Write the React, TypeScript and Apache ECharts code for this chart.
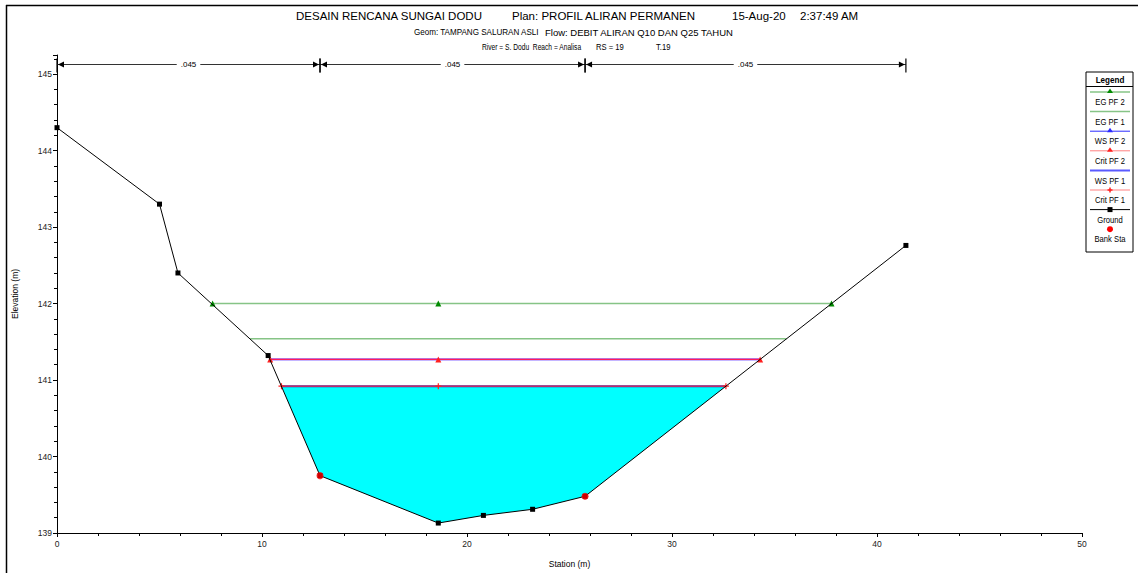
import React, { useEffect, useRef } from 'react';
import * as echarts from 'echarts';

// ---- data ----
const groundStation = [0, 5.0, 5.9, 10.3, 12.83, 18.6, 20.8, 23.2, 25.76, 41.41];
const groundElev = [144.3, 143.3, 142.4, 141.32, 139.75, 139.13, 139.23, 139.31, 139.48, 142.76];
const bankStation = [12.83, 25.76];
const bankElev = [139.75, 139.48];

const egPf2Elev = 142.0;
const egPf2Stations = [7.59, 18.6, 37.78];
const egPf1Elev = 141.54;
const egPf1Stations = [9.42, 35.59];
const wsPf2Elev = 141.27;
const wsPf2Stations = [10.4, 18.6, 34.3];
const critPf2Elev = 141.27;
const critPf2Stations = [10.4, 18.6, 34.3];
const wsPf1Elev = 140.92;
const wsPf1Stations = [10.95, 18.6, 32.63];
const critPf1Elev = 140.92;
const critPf1Stations = [10.95, 18.6, 32.63];

const nBreaks = [0, 12.83, 25.76, 41.41];
const nValues = ['.045', '.045', '.045'];

const titleLine1 = ['DESAIN RENCANA SUNGAI DODU', 'Plan: PROFIL ALIRAN PERMANEN', '15-Aug-20', '2:37:49 AM'];
const titleLine2 = ['Geom: TAMPANG SALURAN ASLI', 'Flow: DEBIT ALIRAN Q10 DAN Q25 TAHUN'];
const titleLine3 = ['River = S. Dodu  Reach = Analisa', 'RS = 19', 'T.19'];

const legendLabels = ['EG PF 2', 'EG PF 1', 'WS PF 2', 'Crit PF 2', 'WS PF 1', 'Crit PF 1', 'Ground', 'Bank Sta'];

const FONT = 'Liberation Sans, Arial, sans-serif';

const EG_LINE = '#86c486';
const EG_MARK = '#008a00';
const WS_BLUE = '#2a2aff';
const CRIT_RED = '#ff2020';
const CRIT_PINK = '#ff8080';

const PLUS = 'path://M4,0H6V4H10V6H6V10H4V6H0V4H4Z';

function hLine(stations: number[], elev: number) {
  return stations.map((s) => [s, elev]);
}

export default function App() {
  const ref = useRef<HTMLDivElement>(null);
  useEffect(() => {
    if (!ref.current) return;
    const chart = echarts.init(ref.current, undefined, { renderer: 'svg' });

    const ground = groundStation.map((s, i) => [s, groundElev[i]]);
    const wl = wsPf1Stations[0];
    const wr = wsPf1Stations[wsPf1Stations.length - 1];
    const waterPoly: number[][] = [[wl, wsPf1Elev]];
    groundStation.forEach((s, i) => {
      if (s > wl && s < wr) waterPoly.push([s, groundElev[i]]);
    });
    waterPoly.push([wr, wsPf1Elev]);

    const nSegments = nValues.map((_, i) => [nBreaks[i], nBreaks[i + 1], 145]);

    const t = (text: string, x: number, y: number, size: number, sx = 1, align = 'left', weight = 'normal') => ({
      type: 'text', x, y, scaleX: sx,
      style: { text, x: 0, y: 0, align, verticalAlign: 'middle', font: `${weight} ${size}px ${FONT}`, fill: '#000' },
    });

    // legend graphic
    const lx0 = 1090, lx1 = 1130, lcx = 1110;
    const legendChildren: any[] = [
      { type: 'rect', shape: { x: 1086, y: 72, width: 47, height: 180 }, style: { fill: '#fff', stroke: '#000', lineWidth: 1 } },
      t('Legend', lcx, 80, 9, 0.9, 'center', 'bold'),
      { type: 'line', shape: { x1: 1086, y1: 86.5, x2: 1133, y2: 86.5 }, style: { stroke: '#000', lineWidth: 1 } },
    ];
    legendLabels.forEach((lab, i) => {
      const ly = 92 + i * 19.6;
      const ty = ly + 10;
      legendChildren.push(t(lab, lcx, ty, 9, 0.85, 'center'));
      const line = (c: string, w: number) => ({ type: 'line', shape: { x1: lx0, y1: ly, x2: lx1, y2: ly }, style: { stroke: c, lineWidth: w } });
      const tri = (c: string) => ({ type: 'polygon', shape: { points: [[lcx, ly - 3.5], [lcx - 3, ly + 1], [lcx + 3, ly + 1]] }, style: { fill: c } });
      if (i === 0) { legendChildren.push(line(EG_LINE, 1.5), tri(EG_MARK)); }
      if (i === 1) { legendChildren.push(line(EG_LINE, 1.5)); }
      if (i === 2) { legendChildren.push(line(WS_BLUE, 1), tri(WS_BLUE)); }
      if (i === 3) { legendChildren.push(line(CRIT_PINK, 1), tri(CRIT_RED)); }
      if (i === 4) { legendChildren.push(line('#5a5aff', 2)); }
      if (i === 5) {
        legendChildren.push(line(CRIT_PINK, 1));
        legendChildren.push({ type: 'line', shape: { x1: lcx - 2.5, y1: ly, x2: lcx + 2.5, y2: ly }, style: { stroke: CRIT_RED, lineWidth: 1.5 } });
        legendChildren.push({ type: 'line', shape: { x1: lcx, y1: ly - 2.5, x2: lcx, y2: ly + 2.5 }, style: { stroke: CRIT_RED, lineWidth: 1.5 } });
      }
      if (i === 6) {
        legendChildren.push(line('#000', 1));
        legendChildren.push({ type: 'rect', shape: { x: lcx - 2.5, y: ly - 2.5, width: 5, height: 5 }, style: { fill: '#000' } });
      }
      if (i === 7) {
        legendChildren.push({ type: 'circle', shape: { cx: lcx, cy: ly, r: 3 }, style: { fill: '#ff0000' } });
      }
    });

    const option: any = {
      animation: false,
      backgroundColor: '#fff',
      grid: { left: 57, right: 56, top: 55, bottom: 36, containLabel: false },
      xAxis: {
        type: 'value', min: 0, max: 50, interval: 10,
        name: 'Station (m)', nameLocation: 'middle', nameGap: 26,
        nameTextStyle: { fontFamily: FONT, fontSize: 8.5, color: '#000' },
        axisLine: { show: true, onZero: false, lineStyle: { color: '#000', width: 1 } },
        axisTick: { show: true, length: 4, lineStyle: { color: '#000' } },
        minorTick: { show: true, splitNumber: 5, length: 3, lineStyle: { color: '#000' } },
        axisLabel: { fontFamily: FONT, fontSize: 8.5, color: '#222', margin: 6 },
        splitLine: { show: false },
      },
      yAxis: {
        type: 'value', min: 139, max: 145.25, interval: 1,
        name: 'Elevation (m)', nameLocation: 'middle', nameGap: 38, nameRotate: 90,
        nameTextStyle: { fontFamily: FONT, fontSize: 8.5, color: '#000' },
        axisLine: { show: true, onZero: false, lineStyle: { color: '#000', width: 1 } },
        axisTick: { show: true, length: 4, lineStyle: { color: '#000' } },
        minorTick: { show: true, splitNumber: 5, length: 3, lineStyle: { color: '#000' } },
        axisLabel: {
          fontFamily: FONT, fontSize: 8.5, color: '#222', margin: 5,
          formatter: (v: number) => (Number.isInteger(v) ? String(v) : ''),
        },
        splitLine: { show: false },
      },
      graphic: [
        { type: 'line', shape: { x1: 6, y1: 5.5, x2: 1138, y2: 5.5 }, style: { stroke: '#000', lineWidth: 1.5 }, z: 100 },
        { type: 'line', shape: { x1: 6.5, y1: 5, x2: 6.5, y2: 573 }, style: { stroke: '#000', lineWidth: 1.5 }, z: 100 },
        t(titleLine1[0], 296, 16, 11.5),
        t(titleLine1[1], 512, 16, 11.5),
        t(titleLine1[2], 732, 16, 11.5),
        t(titleLine1[3], 800, 16, 11.5),
        t(titleLine2[0], 414, 32, 9.5, 0.85),
        t(titleLine2[1], 545, 32, 9.5, 1.0),
        t(titleLine3[0], 482, 47, 9, 0.74),
        t(titleLine3[1], 596, 47, 9, 0.85),
        t(titleLine3[2], 656, 47, 9, 0.85),
        { type: 'group', children: legendChildren, z: 100 },
      ],
      series: [
        {
          type: 'custom', name: 'water', silent: true, z: 1, clip: false,
          data: [[wl, wsPf1Elev]],
          encode: { x: 0, y: 1 },
          renderItem: (params: any, api: any) => ({
            type: 'polygon',
            shape: { points: waterPoly.map((p) => api.coord(p)) },
            style: { fill: '#00ffff' },
          }),
        },
        {
          type: 'custom', name: 'manning', silent: true, z: 5, clip: false,
          data: nSegments,
          encode: { x: [0, 1], y: 2 },
          renderItem: (params: any, api: any) => {
            const x0 = api.coord([api.value(0), 139])[0];
            const x1 = api.coord([api.value(1), 139])[0];
            const y = params.coordSys.y + 9.5;
            const label = nValues[params.dataIndex];
            return {
              type: 'group',
              children: [
                { type: 'line', shape: { x1: x0, y1: y, x2: x1, y2: y }, style: { stroke: '#333', lineWidth: 1 } },
                { type: 'polygon', shape: { points: [[x0 + 1, y], [x0 + 7, y - 3], [x0 + 7, y + 3]] }, style: { fill: '#000' } },
                { type: 'polygon', shape: { points: [[x1 - 1, y], [x1 - 7, y - 3], [x1 - 7, y + 3]] }, style: { fill: '#000' } },
                { type: 'line', shape: { x1: x0, y1: y - 6, x2: x0, y2: y + 8 }, style: { stroke: '#000', lineWidth: 1.2 } },
                { type: 'line', shape: { x1: x1, y1: y - 6, x2: x1, y2: y + 8 }, style: { stroke: '#000', lineWidth: 1.2 } },
                {
                  type: 'text',
                  style: {
                    text: label, x: (x0 + x1) / 2, y, align: 'center', verticalAlign: 'middle',
                    font: `8px ${FONT}`, fill: '#000', backgroundColor: '#fff', padding: [0, 4],
                  },
                },
              ],
            };
          },
        },
        {
          type: 'line', name: 'EG PF 2', z: 3, data: hLine(egPf2Stations, egPf2Elev),
          lineStyle: { color: EG_LINE, width: 1.5 }, symbol: 'triangle', symbolSize: 6,
          itemStyle: { color: EG_MARK }, showAllSymbol: true,
        },
        {
          type: 'line', name: 'EG PF 1', z: 3, data: hLine(egPf1Stations, egPf1Elev),
          lineStyle: { color: EG_LINE, width: 1.5 }, symbol: 'none',
        },
        {
          type: 'line', name: 'WS PF 2', z: 3, data: hLine(wsPf2Stations, wsPf2Elev),
          lineStyle: { color: '#8a6cff', width: 2.2 }, symbol: 'none',
        },
        {
          type: 'line', name: 'Crit PF 2', z: 4, data: hLine(critPf2Stations, critPf2Elev),
          lineStyle: { color: '#ff1a5a', width: 1.2 }, symbol: 'triangle', symbolSize: 6,
          itemStyle: { color: CRIT_RED }, showAllSymbol: true,
        },
        {
          type: 'line', name: 'WS PF 1', z: 3, data: hLine(wsPf1Stations, wsPf1Elev),
          lineStyle: { color: '#3a2aa0', width: 2 }, symbol: 'none',
        },
        {
          type: 'line', name: 'Crit PF 1', z: 4, data: hLine(critPf1Stations, critPf1Elev),
          lineStyle: { color: '#ff3050', width: 1 }, symbol: PLUS, symbolSize: 6,
          itemStyle: { color: CRIT_RED }, showAllSymbol: true,
        },
        {
          type: 'line', name: 'Ground', z: 6, data: ground,
          lineStyle: { color: '#000', width: 1 }, symbol: 'rect', symbolSize: 5,
          itemStyle: { color: '#000' }, showAllSymbol: true,
        },
        {
          type: 'scatter', name: 'Bank Sta', z: 7, data: bankStation.map((s, i) => [s, bankElev[i]]),
          symbol: 'circle', symbolSize: 7, itemStyle: { color: '#ff0000' },
        },
      ],
    };
    chart.setOption(option);
    return () => chart.dispose();
  }, []);
  return <div ref={ref} style={{ width: 1138, height: 573, position: 'absolute', left: 0, top: 0 }} />;
}
